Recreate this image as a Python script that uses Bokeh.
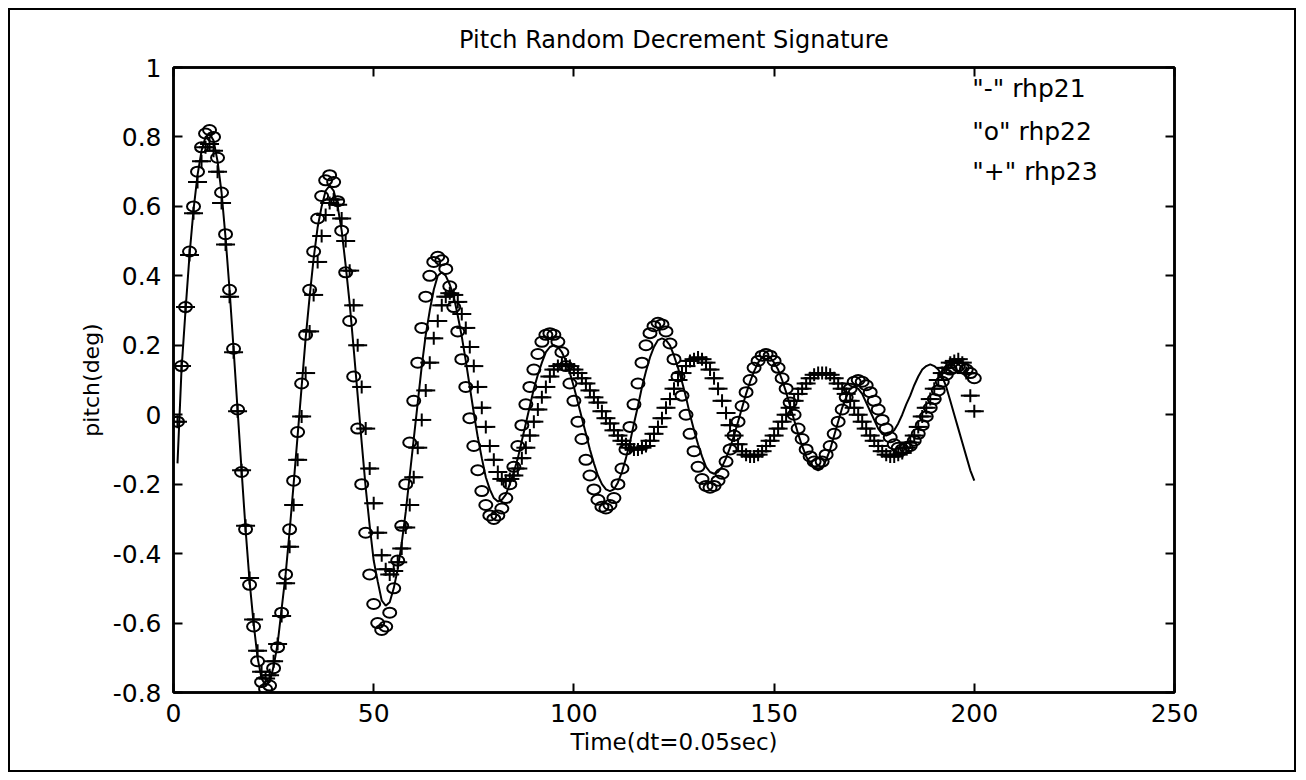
from bokeh.plotting import figure
from bokeh.models import LinearAxis, Range1d, FixedTicker, Label, PrintfTickFormatter, ColumnDataSource
from bokeh.embed import file_html
from bokeh.resources import INLINE

# ---------------- data ----------------
sample = list(range(1, 201))

rhp21 = [
    -0.14, 0.13, 0.30, 0.46, 0.59, 0.69, 0.76, 0.80, 0.81, 0.79,
    0.73, 0.64, 0.51, 0.36, 0.19, 0.015, -0.16, -0.33, -0.48, -0.60,
    -0.70, -0.76, -0.78, -0.77, -0.725, -0.66, -0.56, -0.46, -0.335, -0.20,
    -0.06, 0.08, 0.22, 0.34, 0.45, 0.54, 0.60, 0.645, 0.66, 0.645,
    0.60, 0.53, 0.43, 0.32, 0.19, 0.055, -0.08, -0.21, -0.32, -0.42,
    -0.48, -0.535, -0.55, -0.54, -0.50, -0.445, -0.37, -0.28, -0.175, -0.07,
    0.035, 0.14, 0.23, 0.30, 0.36, 0.40, 0.41, 0.40, 0.375, 0.34,
    0.285, 0.225, 0.155, 0.08, 0.005, -0.065, -0.125, -0.18, -0.215, -0.24,
    -0.25, -0.245, -0.23, -0.20, -0.165, -0.125, -0.075, -0.025, 0.025, 0.075,
    0.115, 0.15, 0.18, 0.195, 0.20, 0.195, 0.18, 0.155, 0.12, 0.08,
    0.035, -0.01, -0.055, -0.10, -0.14, -0.175, -0.20, -0.215, -0.22, -0.215,
    -0.195, -0.165, -0.125, -0.08, -0.025, 0.025, 0.08, 0.125, 0.165, 0.195,
    0.215, 0.22, 0.215, 0.20, 0.17, 0.135, 0.095, 0.05, 0.0, -0.045,
    -0.085, -0.12, -0.15, -0.165, -0.17, -0.165, -0.15, -0.125, -0.095, -0.06,
    -0.02, 0.02, 0.06, 0.095, 0.125, 0.15, 0.165, 0.17, 0.165, 0.15,
    0.13, 0.10, 0.065, 0.025, -0.015, -0.055, -0.09, -0.12, -0.14, -0.155,
    -0.16, -0.155, -0.13, -0.10, -0.06, -0.02, 0.02, 0.05, 0.075, 0.08,
    0.075, 0.06, 0.035, 0.01, -0.015, -0.04, -0.055, -0.06, -0.055, -0.045,
    -0.025, 0.0, 0.03, 0.055, 0.085, 0.11, 0.13, 0.14, 0.145, 0.14,
    0.13, 0.11, 0.08, 0.04, 0.0, -0.04, -0.08, -0.12, -0.16, -0.19,
]

rhp22 = [
    -0.02, 0.14, 0.31, 0.47, 0.60, 0.70, 0.77, 0.81, 0.82, 0.80,
    0.74, 0.64, 0.52, 0.36, 0.19, 0.015, -0.165, -0.33, -0.49, -0.61,
    -0.71, -0.77, -0.79, -0.78, -0.73, -0.67, -0.57, -0.46, -0.33, -0.19,
    -0.05, 0.09, 0.23, 0.36, 0.47, 0.565, 0.63, 0.675, 0.69, 0.67,
    0.615, 0.53, 0.41, 0.27, 0.11, -0.04, -0.20, -0.34, -0.46, -0.545,
    -0.60, -0.62, -0.61, -0.57, -0.50, -0.42, -0.32, -0.20, -0.08, 0.04,
    0.15, 0.25, 0.34, 0.40, 0.44, 0.455, 0.445, 0.42, 0.37, 0.31,
    0.24, 0.16, 0.08, -0.01, -0.09, -0.16, -0.22, -0.26, -0.29, -0.30,
    -0.29, -0.27, -0.24, -0.20, -0.15, -0.09, -0.03, 0.03, 0.08, 0.13,
    0.175, 0.21, 0.23, 0.235, 0.23, 0.21, 0.18, 0.14, 0.09, 0.04,
    -0.02, -0.07, -0.13, -0.175, -0.215, -0.245, -0.265, -0.27, -0.26, -0.24,
    -0.20, -0.155, -0.10, -0.035, 0.03, 0.09, 0.15, 0.20, 0.235, 0.255,
    0.265, 0.26, 0.24, 0.205, 0.16, 0.11, 0.055, 0.0, -0.055, -0.105,
    -0.15, -0.185, -0.205, -0.21, -0.205, -0.19, -0.17, -0.135, -0.10, -0.06,
    -0.02, 0.025, 0.065, 0.10, 0.135, 0.155, 0.17, 0.175, 0.17, 0.155,
    0.135, 0.105, 0.075, 0.035, 0.0, -0.04, -0.07, -0.10, -0.12, -0.135,
    -0.14, -0.135, -0.115, -0.09, -0.055, -0.02, 0.015, 0.05, 0.075, 0.095,
    0.10, 0.095, 0.085, 0.065, 0.04, 0.015, -0.015, -0.04, -0.065, -0.085,
    -0.095, -0.10, -0.095, -0.09, -0.075, -0.055, -0.03, -0.005, 0.02, 0.045,
    0.07, 0.095, 0.115, 0.13, 0.135, 0.14, 0.135, 0.13, 0.12, 0.105,
]

rhp23 = [
    -0.02, 0.14, 0.31, 0.46, 0.58, 0.67, 0.73, 0.77, 0.78, 0.76,
    0.70, 0.61, 0.49, 0.34, 0.18, 0.01, -0.16, -0.32, -0.47, -0.59,
    -0.68, -0.74, -0.76, -0.75, -0.71, -0.66, -0.58, -0.485, -0.38, -0.26,
    -0.13, -0.005, 0.12, 0.24, 0.345, 0.44, 0.515, 0.575, 0.61, 0.62,
    0.605, 0.565, 0.50, 0.415, 0.315, 0.20, 0.08, -0.04, -0.155, -0.255,
    -0.34, -0.405, -0.445, -0.46, -0.45, -0.425, -0.385, -0.325, -0.26, -0.18,
    -0.095, -0.015, 0.07, 0.15, 0.22, 0.27, 0.315, 0.34, 0.35, 0.345,
    0.325, 0.29, 0.25, 0.195, 0.14, 0.08, 0.02, -0.035, -0.09, -0.13,
    -0.165, -0.185, -0.19, -0.185, -0.175, -0.155, -0.125, -0.095, -0.06, -0.02,
    0.015, 0.05, 0.08, 0.11, 0.13, 0.14, 0.145, 0.145, 0.14, 0.13,
    0.12, 0.105, 0.09, 0.07, 0.05, 0.035, 0.01, -0.01, -0.025, -0.045,
    -0.06, -0.075, -0.085, -0.095, -0.10, -0.10, -0.095, -0.09, -0.075, -0.055,
    -0.035, -0.01, 0.02, 0.045, 0.075, 0.10, 0.12, 0.14, 0.155, 0.16,
    0.165, 0.16, 0.15, 0.13, 0.105, 0.075, 0.04, 0.005, -0.03, -0.06,
    -0.085, -0.105, -0.115, -0.12, -0.12, -0.115, -0.105, -0.09, -0.075, -0.06,
    -0.04, -0.02, 0.0, 0.02, 0.04, 0.06, 0.075, 0.09, 0.105, 0.115,
    0.12, 0.12, 0.12, 0.115, 0.105, 0.09, 0.075, 0.06, 0.04, 0.02,
    0.0, -0.02, -0.04, -0.06, -0.075, -0.09, -0.105, -0.115, -0.12, -0.12,
    -0.115, -0.11, -0.095, -0.08, -0.06, -0.035, -0.005, 0.02, 0.045, 0.075,
    0.10, 0.12, 0.135, 0.15, 0.155, 0.16, 0.15, 0.12, 0.055, 0.01,
]

x_ticks = [0, 50, 100, 150, 200, 250]
y_ticks = [-0.8, -0.6, -0.4, -0.2, 0, 0.2, 0.4, 0.6, 0.8, 1]
title_text = "Pitch Random Decrement Signature"
x_label = "Time(dt=0.05sec)"
y_label = "pitch(deg)"
note_lines = ['"-" rhp21', '"o" rhp22', '"+" rhp23']
note_y = [0.94, 0.815, 0.70]
note_x = 199.5

FONT = "DejaVu Sans"

src = ColumnDataSource(dict(x=sample, a=rhp21, b=rhp22, c=rhp23))

p = figure(width=1288, height=764, x_range=Range1d(0, 250), y_range=Range1d(-0.8, 1),
           output_backend="svg", toolbar_location=None, title=title_text,
           min_border_left=163, min_border_right=124, min_border_top=57, min_border_bottom=82)
p.styles = {"border": "2px solid black", "margin-left": "8px", "margin-top": "8px"}
p.background_fill_color = "white"
p.border_fill_color = "white"
p.grid.visible = False
p.outline_line_color = "black"
p.outline_line_width = 2.5

p.title.text_font = FONT
p.title.text_font_size = "24px"
p.title.text_font_style = "normal"
p.title.text_color = "black"
p.title.align = "center"
p.title.standoff = 27

fmt = PrintfTickFormatter(format="%g")


def style_axis(ax, labels=True):
    ax.axis_line_width = 2.5
    ax.axis_line_color = "black"
    ax.major_tick_in = 9
    ax.major_tick_out = 0
    ax.major_tick_line_width = 2
    ax.major_tick_line_color = "black"
    ax.minor_tick_line_color = None
    ax.major_label_text_font = FONT
    ax.major_label_text_color = "black"
    ax.axis_label_text_font = FONT
    ax.axis_label_text_font_style = "normal"
    ax.axis_label_text_color = "black"
    if not labels:
        ax.major_label_text_color = None
        ax.major_label_text_font_size = "1px"
        ax.major_label_standoff = 0


xa = p.xaxis[0]
xa.ticker = FixedTicker(ticks=x_ticks)
style_axis(xa)
xa.major_label_text_font_size = "25px"
xa.major_label_standoff = 11
xa.axis_label = x_label
xa.axis_label_text_font_size = "23px"
xa.axis_label_standoff = 4

ya = p.yaxis[0]
ya.ticker = FixedTicker(ticks=y_ticks)
ya.formatter = fmt
style_axis(ya)
ya.major_label_text_font_size = "25px"
ya.major_label_standoff = 12
ya.axis_label = y_label
ya.axis_label_text_font_size = "22px"
ya.axis_label_standoff = 6

top = LinearAxis(ticker=FixedTicker(ticks=x_ticks))
style_axis(top, labels=False)
p.add_layout(top, "above")
right = LinearAxis(ticker=FixedTicker(ticks=y_ticks))
style_axis(right, labels=False)
p.add_layout(right, "right")

# series
p.line("x", "a", source=src, line_color="black", line_width=2)
p.ellipse("x", "b", source=src, width=13, height=10, width_units="screen", height_units="screen",
          fill_color=None, line_color="black", line_width=2)
p.scatter("x", "c", source=src, marker="dash", size=19, line_color="black", line_width=2)
p.scatter("x", "c", source=src, marker="cross", size=13, line_color="black", line_width=2)

for txt, yy in zip(note_lines, note_y):
    p.add_layout(Label(x=note_x, y=yy, text=txt, text_font=FONT, text_font_size="25px",
                       text_baseline="middle", text_color="black"))

open("out.html", "w").write(file_html(p, INLINE))
